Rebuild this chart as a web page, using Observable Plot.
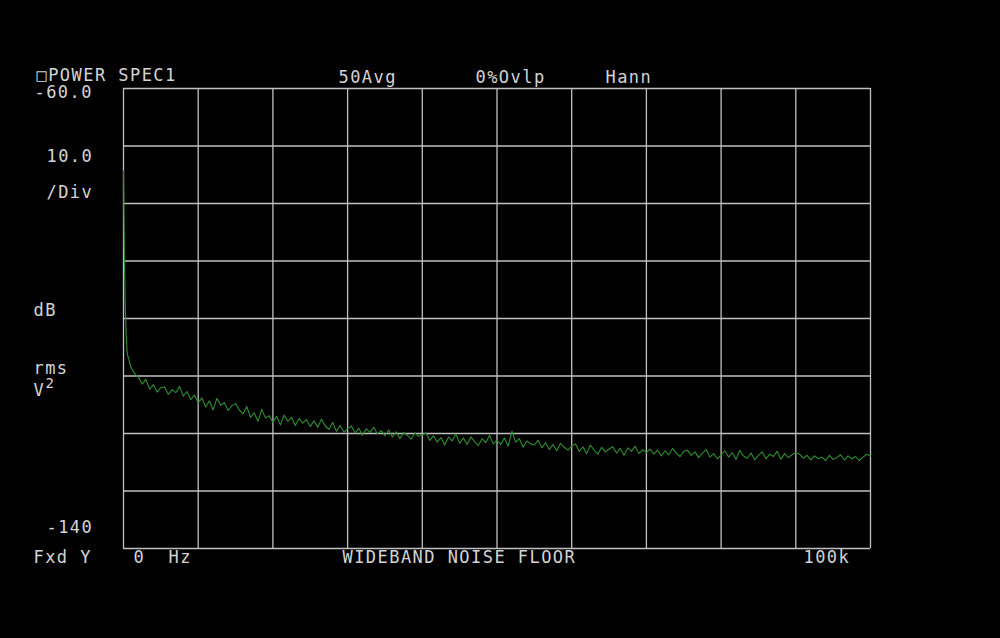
<!DOCTYPE html>
<html>
<head>
<meta charset="utf-8">
<script src="https://cdn.jsdelivr.net/npm/d3@7"></script>
<script src="https://cdn.jsdelivr.net/npm/@observablehq/plot@0.6"></script>
<style>
  html, body { margin: 0; padding: 0; background: #000; }
  #chart svg text { letter-spacing: 1.45px; }
</style>
</head>
<body>
<div id="chart"></div>
<script>
// Low-frequency bins (kHz) and their levels (dB rms V^2)
const lowFreqKHz = [0, 0.125, 0.25, 0.375, 0.5];
const lowDb = [-74.3, -89.9, -98.5, -103.2, -106.1];

// Main spectrum: bins from 1.0 to 100 kHz every 0.5 kHz
const mainStartKHz = 1.0;
const mainStepKHz = 0.5;
const mainDb = [
  -108.5, -109.6, -110.2, -111.4, -110.6, -112.3, -111.5, -112.8, -112.0,
  -111.9, -113.2, -112.4, -112.9, -111.8, -113.5, -112.7, -114.1, -113.3, -114.7,
  -113.8, -115.4, -114.3, -115.9, -113.9, -115.1, -114.6, -116.0, -115.2, -114.8,
  -115.9, -116.6, -115.3, -117.2, -116.4, -117.9, -115.8, -117.3, -116.9, -118.1,
  -117.0, -118.5, -116.8, -117.9, -117.2, -118.6, -117.4, -118.2, -117.6, -118.8,
  -117.8, -118.9, -117.5, -118.7, -119.3, -118.1, -119.6, -118.6, -119.8, -119.2,
  -118.7, -119.9, -119.1, -120.3, -119.2, -119.8, -118.9, -120.1, -119.5, -120.4,
  -119.4, -120.6, -119.7, -120.9, -119.8, -120.3, -121.0, -119.9, -120.5, -120.2,
  -119.9, -121.2, -120.4, -121.5, -120.7, -122.0, -120.6, -121.3, -120.1, -121.7,
  -120.8, -121.9, -120.6, -121.4, -122.1, -120.9, -121.6, -120.3, -121.8, -121.2,
  -121.9, -120.8, -122.2, -119.6, -121.5, -120.9, -122.4, -121.3, -121.8, -122.0,
  -121.2, -122.5, -121.6, -122.8, -121.9, -123.0, -121.7, -122.4, -122.9, -122.2,
  -121.8, -123.1, -122.3, -123.5, -122.0, -122.9, -123.6, -122.4, -123.2, -122.7,
  -122.3, -123.4, -122.6, -123.8, -122.5, -123.1, -122.2, -123.5, -122.8, -123.3,
  -122.7, -123.6, -122.9, -123.9, -123.0, -123.7, -122.6, -123.4, -124.0, -123.1,
  -122.9, -123.8, -123.2, -124.2, -123.4, -122.8, -124.1, -123.5, -124.4, -123.7,
  -123.0, -124.1, -123.3, -124.5, -122.9, -123.9, -124.3, -123.4, -124.6, -123.8,
  -123.2, -124.4, -123.6, -124.0, -123.1, -124.5, -123.5, -124.2, -123.7, -123.3,
  -123.6, -124.3, -123.8, -124.6, -123.9, -124.4, -124.1, -124.7, -123.8, -124.5,
  -124.2, -123.7, -124.6, -123.9, -124.4, -124.0, -124.7, -124.1, -123.6, -123.9
];

// Grid ticks
const xGridKHz = [0, 10, 20, 30, 40, 50, 60, 70, 80, 90, 100];
const yGridDb = [-140, -130, -120, -110, -100, -90, -80, -70, -60];

// Annotation texts
const headerTexts = ["\u25A1POWER SPEC1", "50Avg", "0%Ovlp", "Hann"];
const leftTexts = ["-60.0", "10.0", "/Div", "dB", "rms", "V", "2", "-140", "Fxd Y"];
const footerTexts = ["0  Hz", "WIDEBAND NOISE FLOOR", "100k"];

const spectrum = [
  ...lowFreqKHz.map((f, i) => ({f, db: lowDb[i]})),
  ...mainDb.map((db, i) => ({f: mainStartKHz + i * mainStepKHz, db}))
];

const txtColor = "#d4d4d4";
const gridColor = "#c0c0c0";
const font = "DejaVu Sans Mono";

// label at absolute pixel position (left edge x, vertical center y)
const ML = 123, MT = 88;
function label(text, x, y, size = 17) {
  return Plot.text([text], {
    text: d => d,
    frameAnchor: "top-left",
    dx: x - ML,
    dy: y - MT,
    textAnchor: "start",
    lineAnchor: "middle",
    fill: txtColor,
    fontSize: size,
    fontFamily: font
  });
}

const chart = Plot.plot({
  width: 1000,
  height: 638,
  marginLeft: 123,
  marginRight: 130,
  marginTop: 88,
  marginBottom: 90,
  style: {background: "#000", color: txtColor, fontFamily: font, overflow: "visible"},
  x: {domain: [0, 100], axis: null},
  y: {domain: [-140, -60], axis: null},
  marks: [
    Plot.ruleX(xGridKHz, {stroke: gridColor, strokeWidth: 1.3}),
    Plot.ruleY(yGridDb, {stroke: gridColor, strokeWidth: 1.3}),
    Plot.line(spectrum, {x: "f", y: "db", stroke: "#2f8f2f", strokeWidth: 1.1}),
    label(headerTexts[0], 36, 75),
    label(headerTexts[1], 338, 77),
    label(headerTexts[2], 475, 77),
    label(headerTexts[3], 605, 77),
    label(leftTexts[0], 34, 92),
    label(leftTexts[1], 46, 156),
    label(leftTexts[2], 46, 192),
    label(leftTexts[3], 33, 310),
    label(leftTexts[4], 33, 368),
    label(leftTexts[5], 33, 390),
    label(leftTexts[6], 45, 383, 14),
    label(leftTexts[7], 46, 527),
    label(leftTexts[8], 33, 557),
    label(footerTexts[0], 133, 557),
    label(footerTexts[1], 342, 557),
    label(footerTexts[2], 803, 557)
  ]
});
document.getElementById("chart").appendChild(chart);
</script>
</body>
</html>
